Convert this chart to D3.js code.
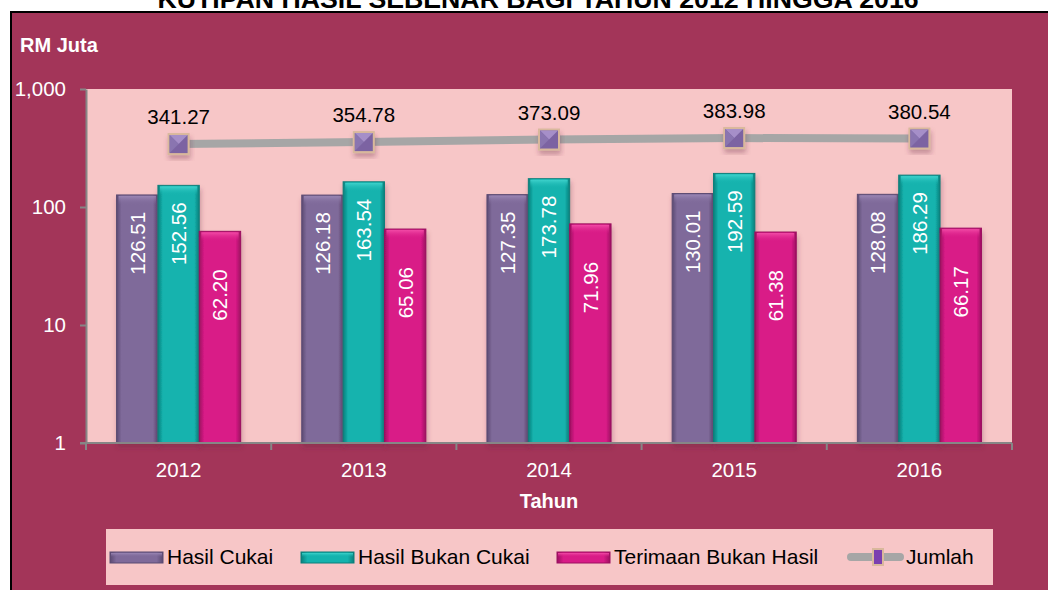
<!DOCTYPE html>
<html>
<head>
<meta charset="utf-8">
<title>Kutipan Hasil Sebenar 2012-2016</title>
<script src="https://cdn.jsdelivr.net/npm/d3@7"></script>
<style>
  body { margin: 0; background: #fff; }
  svg { display: block; font-family: "Liberation Sans", Arial, sans-serif; }
</style>
</head>
<body>
<svg id="chart" width="1048" height="590"></svg>
<script>
// data
var years = ["2012", "2013", "2014", "2015", "2016"];
var seriesNames = ["Hasil Cukai", "Hasil Bukan Cukai", "Terimaan Bukan Hasil"];
var hasilCukai = [126.51, 126.18, 127.35, 130.01, 128.08];
var hasilBukanCukai = [152.56, 163.54, 173.78, 192.59, 186.29];
var terimaanBukanHasil = [62.20, 65.06, 71.96, 61.38, 66.17];
var jumlah = [341.27, 354.78, 373.09, 383.98, 380.54];
var yTicks = [1, 10, 100, 1000];

var barColors = ["#7f6a9a", "#14b3ae", "#d91b87"];
var barDark = ["#5b4a72", "#0a7f7b", "#9c0f60"];
var barLight = ["#9a86b4", "#3fd2cc", "#f24aa6"];
var labelOffset = [17, 17, 38];

var svg = d3.select("#chart");
var defs = svg.append("defs");

barColors.forEach(function (c, i) {
  var g = defs.append("linearGradient").attr("id", "bar" + i)
    .attr("x1", 0).attr("x2", 1).attr("y1", 0).attr("y2", 0);
  g.append("stop").attr("offset", 0).attr("stop-color", barDark[i]);
  g.append("stop").attr("offset", 0.12).attr("stop-color", c);
  g.append("stop").attr("offset", 0.45).attr("stop-color", c);
  g.append("stop").attr("offset", 0.88).attr("stop-color", c);
  g.append("stop").attr("offset", 1).attr("stop-color", barDark[i]);
  var t = defs.append("linearGradient").attr("id", "top" + i)
    .attr("x1", 0).attr("x2", 0).attr("y1", 0).attr("y2", 1);
  t.append("stop").attr("offset", 0).attr("stop-color", barLight[i]);
  t.append("stop").attr("offset", 1).attr("stop-color", c).attr("stop-opacity", 0);
});

var shadow = defs.append("filter").attr("id", "shadow")
  .attr("x", "-30%").attr("y", "-30%").attr("width", "160%").attr("height", "160%");
shadow.append("feDropShadow").attr("dx", 1).attr("dy", 4).attr("stdDeviation", 2.5)
  .attr("flood-color", "#6b2a40").attr("flood-opacity", 0.35);

// title (cut off at the top in the original)
svg.append("text")
  .attr("x", 538).attr("y", 8)
  .attr("text-anchor", "middle")
  .style("font-weight", "bold").style("font-size", "26.7px").style("fill", "#000")
  .text("KUTIPAN HASIL SEBENAR BAGI TAHUN 2012 HINGGA 2016");

// outer frame
svg.append("rect")
  .attr("x", 11).attr("y", 12).attr("width", 1060).attr("height", 600)
  .attr("fill", "#a33559").attr("stroke", "#000").attr("stroke-width", 2);

var plotLeft = 86, plotRight = 1012, plotTop = 89, plotBottom = 443;

svg.append("rect")
  .attr("x", plotLeft).attr("y", plotTop)
  .attr("width", plotRight - plotLeft).attr("height", plotBottom - plotTop)
  .attr("fill", "#f7c6c7");

var x0 = d3.scaleBand().domain(years).range([plotLeft, plotRight])
  .paddingInner(0.33).paddingOuter(0.165);
var x1 = d3.scaleBand().domain(seriesNames).range([0, x0.bandwidth()]);
var y = d3.scaleLog().domain([1, 1000]).range([plotBottom, plotTop]);

var seriesValues = [hasilCukai, hasilBukanCukai, terimaanBukanHasil];

// bars
var groups = svg.append("g").selectAll("g")
  .data(years).join("g")
  .attr("transform", function (d) { return "translate(" + x0(d) + ",0)"; });

groups.each(function (yr, yi) {
  var g = d3.select(this);
  seriesNames.forEach(function (s, si) {
    var v = seriesValues[si][yi];
    var bx = x1(s), bw = x1.bandwidth(), by = y(v), bh = plotBottom - y(v);
    g.append("rect")
      .attr("x", bx).attr("y", by).attr("width", bw).attr("height", bh)
      .attr("fill", "url(#bar" + si + ")")
      .attr("stroke", barDark[si]).attr("stroke-width", 1)
      .attr("filter", "url(#shadow)");
    g.append("rect")
      .attr("x", bx + 2).attr("y", by + 1).attr("width", bw - 4).attr("height", 9)
      .attr("fill", "url(#top" + si + ")");
    g.append("text")
      .attr("transform", "translate(" + (bx + bw / 2) + "," + (by + labelOffset[si]) + ") rotate(-90)")
      .attr("text-anchor", "end")
      .attr("dy", "0.36em")
      .style("font-size", "20.5px").style("fill", "#fff")
      .text(v.toFixed(2));
  });
});

// axes
var yAxis = svg.append("g")
  .attr("transform", "translate(" + plotLeft + ",0)")
  .call(d3.axisLeft(y).tickValues(yTicks).tickFormat(d3.format(",")).tickSize(6).tickSizeOuter(0).tickPadding(14));
yAxis.selectAll("line, path").attr("stroke", "#868686").attr("stroke-width", 2);
yAxis.selectAll("text").style("font-size", "20.5px").style("fill", "#fff").attr("font-family", null);

var xAxis = svg.append("g")
  .attr("transform", "translate(0," + plotBottom + ")")
  .call(d3.axisBottom(x0).tickSize(0).tickPadding(19));
xAxis.select("path").attr("stroke", "#868686").attr("stroke-width", 2)
  .attr("d", "M" + (plotLeft - 6) + ",0H" + plotRight);
xAxis.selectAll("text").style("font-size", "20.5px").style("fill", "#fff").attr("font-family", null);
xAxis.selectAll(".boundary")
  .data(d3.range(years.length + 1)).join("line")
  .attr("class", "boundary")
  .attr("x1", function (i) { return plotLeft + i * x0.step(); })
  .attr("x2", function (i) { return plotLeft + i * x0.step(); })
  .attr("y1", 0).attr("y2", 7)
  .attr("stroke", "#868686").attr("stroke-width", 2);

// jumlah line
var cx = function (d, i) { return x0(years[i]) + x0.bandwidth() / 2; };
svg.append("path")
  .datum(jumlah)
  .attr("fill", "none").attr("stroke", "#a6a6a6").attr("stroke-width", 8)
  .attr("d", d3.line().x(cx).y(function (d) { return y(d); }));

function marker(sel, size) {
  var h = size / 2;
  sel.append("rect")
    .attr("x", -h).attr("y", -h).attr("width", size).attr("height", size)
    .attr("fill", "#7b64a2").attr("stroke", "#d9b89c").attr("stroke-width", 2);
  sel.append("path")
    .attr("d", "M" + (-h + 1) + "," + (-h + 1) + "L" + (h - 1) + "," + (-h + 1) + "L0,0Z")
    .attr("fill", "#a68fc8");
  sel.append("path")
    .attr("d", "M" + (-h + 1) + "," + (-h + 1) + "L0,0L" + (-h + 1) + "," + (h - 1) + "Z")
    .attr("fill", "#8a74b0");
}

var marks = svg.append("g").selectAll("g")
  .data(jumlah).join("g")
  .attr("transform", function (d, i) { return "translate(" + cx(d, i) + "," + y(d) + ")"; })
  .attr("filter", "url(#shadow)");
marks.each(function () { marker(d3.select(this), 20); });

svg.append("g").selectAll("text")
  .data(jumlah).join("text")
  .attr("x", cx)
  .attr("y", function (d) { return y(d) - 20; })
  .attr("text-anchor", "middle")
  .style("font-size", "20.5px").style("fill", "#000")
  .text(function (d) { return d.toFixed(2); });

// axis titles
svg.append("text")
  .attr("x", 20).attr("y", 52)
  .style("font-size", "20px").style("font-weight", "bold").style("fill", "#fff")
  .text("RM Juta");
svg.append("text")
  .attr("x", (plotLeft + plotRight) / 2).attr("y", 508)
  .attr("text-anchor", "middle")
  .style("font-size", "20px").style("font-weight", "bold").style("fill", "#fff")
  .text("Tahun");

// legend
var legend = svg.append("g");
legend.append("rect")
  .attr("x", 106).attr("y", 529).attr("width", 887).attr("height", 56)
  .attr("fill", "#f7c6c7");

var legendX = [110, 301, 557];
seriesNames.forEach(function (s, i) {
  legend.append("rect")
    .attr("x", legendX[i]).attr("y", 552).attr("width", 53).attr("height", 11)
    .attr("fill", "url(#bar" + i + ")").attr("stroke", barDark[i]).attr("stroke-width", 1);
  legend.append("rect")
    .attr("x", legendX[i] + 1).attr("y", 553).attr("width", 51).attr("height", 4)
    .attr("fill", "url(#top" + i + ")");
  legend.append("text")
    .attr("x", legendX[i] + 57).attr("y", 564)
    .style("font-size", "21px").style("fill", "#000")
    .text(s);
});
legend.append("line")
  .attr("x1", 851).attr("x2", 900).attr("y1", 557).attr("y2", 557)
  .attr("stroke", "#a6a6a6").attr("stroke-width", 8).attr("stroke-linecap", "round");
var lm = legend.append("g").attr("transform", "translate(878,557)");
lm.append("rect").attr("x", -5).attr("y", -8).attr("width", 10).attr("height", 16)
  .attr("fill", "#7b3fb0").attr("stroke", "#d9b89c").attr("stroke-width", 2);
legend.append("text")
  .attr("x", 906).attr("y", 564)
  .style("font-size", "21px").style("fill", "#000")
  .text("Jumlah");
</script>
</body>
</html>
